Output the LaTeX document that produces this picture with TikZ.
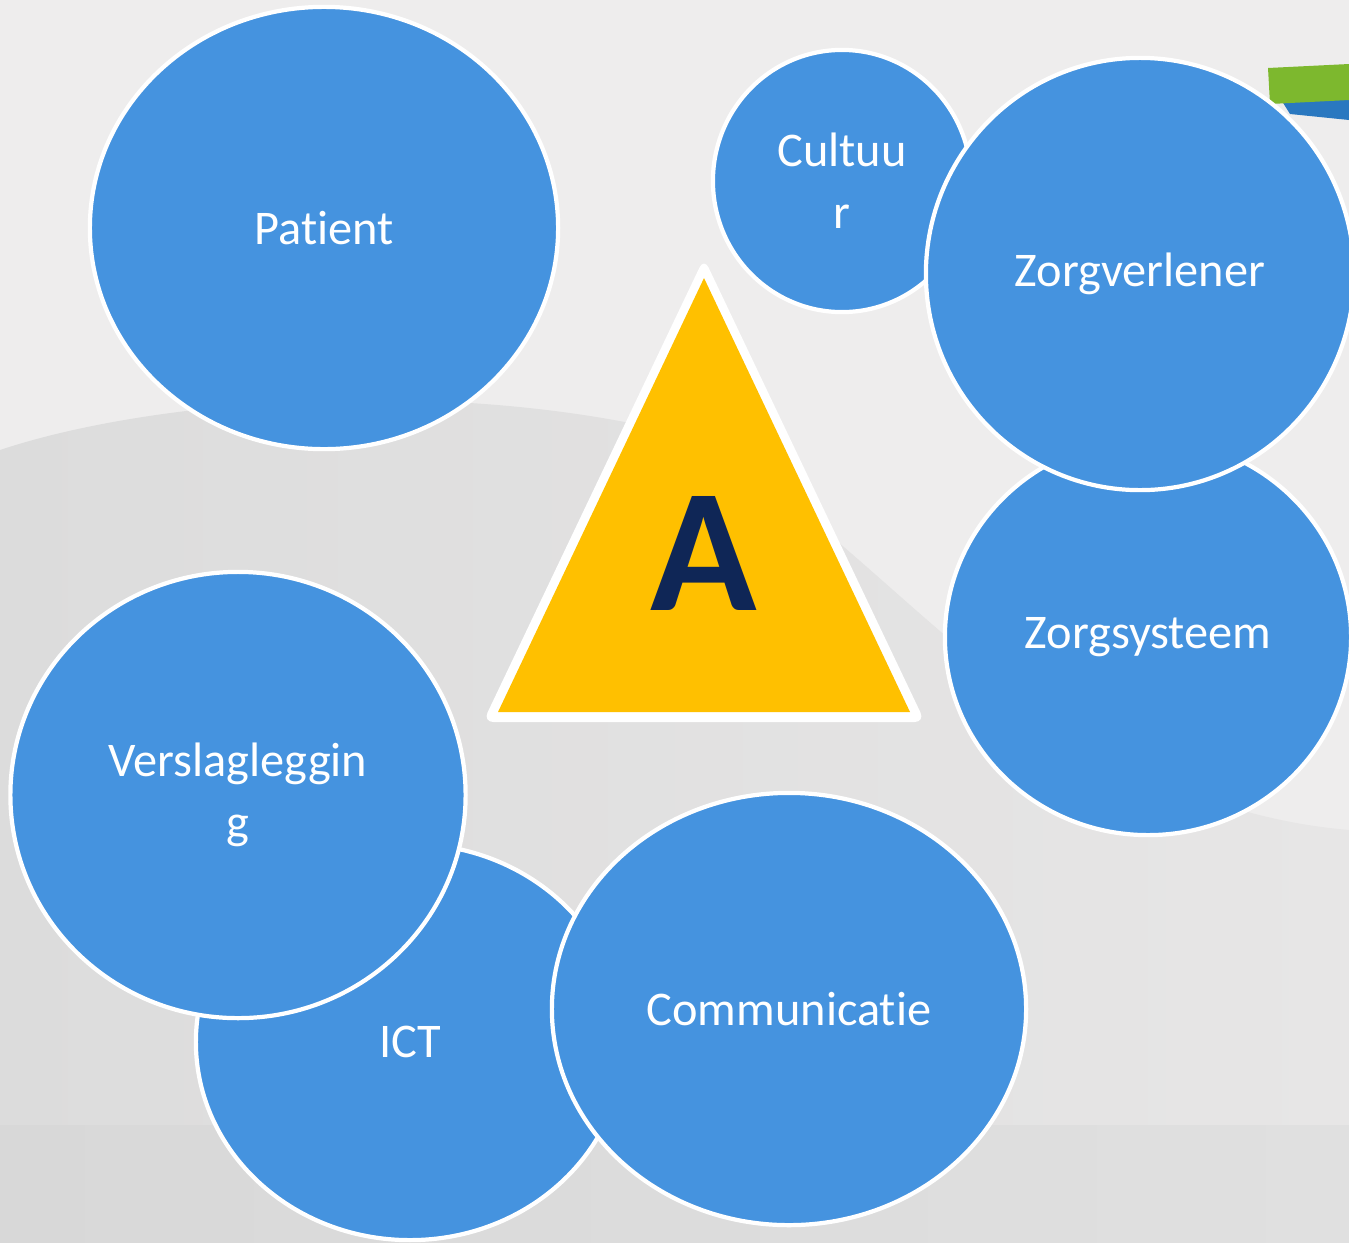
\documentclass[tikz,border=0pt]{standalone}
\usepackage{fontspec}
\setmainfont{Carlito}[Ligatures=NoCommon]
\usetikzlibrary{shapes.geometric}
\definecolor{bblue}{HTML}{4593DF}
\definecolor{tyellow}{HTML}{FFC000}
\definecolor{navy}{HTML}{0F2656}
\definecolor{bgtop}{HTML}{EEEDED}
\definecolor{bgmidL}{HTML}{DCDCDC}
\definecolor{bgmidR}{HTML}{E7E6E6}
\definecolor{bgbotL}{HTML}{D8D8D8}
\definecolor{bgbotR}{HTML}{E0E0E0}
\definecolor{lgreen}{HTML}{7DB82E}
\definecolor{lblue}{HTML}{2A78C0}
\tikzset{
  bub/.style={ellipse, fill=bblue, draw=white, line width=1.2pt, text=white,
    inner sep=0pt, align=center, font=\fontsize{13.75}{17.6}\selectfont},
}
\begin{document}
\begin{tikzpicture}[x=0.01cm,y=-0.01cm]
\useasboundingbox (0,0) rectangle (1349,1242);
\clip (0,0) rectangle (1349,1242);
% background
\fill[bgtop] (0,0) rectangle (1349,1242);
\shade[left color=bgmidL, right color=bgmidR]
  (0,450) .. controls (150,400) and (420,380) .. (640,425)
  .. controls (850,470) and (1000,800) .. (1349,830) -- (1349,1125) -- (0,1125) -- cycle;
\shade[left color=bgbotL, right color=bgbotR] (0,1125) rectangle (1349,1242);
% logo fragment top right
\fill[lblue] (1280,98) -- (1349,96) -- (1349,120) -- (1290,114) -- cycle;
\fill[lgreen] (1268,68) -- (1349,64) -- (1349,100) -- (1270,104) -- cycle;
% triangle
\coordinate (tA) at (704,258);
\coordinate (tB) at (483,722);
\coordinate (tC) at (925,722);
\fill[white, rounded corners=3pt] (tA) -- (tB) -- (tC) -- cycle;
\fill[tyellow] (704,278) -- (498,712) -- (910,712) -- cycle;
\node[font=\fontsize{50}{50}\bfseries\selectfont, text=navy] (A) at (704,553) {A};
% bubbles
\node[bub, minimum width=4.68cm, minimum height=4.42cm] (patient) at (324,228) {Patient};
\node[bub, minimum width=2.58cm, minimum height=2.62cm] (cultuur) at (842,181) {Cultuu\\r};
\node[bub, minimum width=4.06cm, minimum height=3.96cm] (zorgsys) at (1148,637) {Zorgsysteem};
\node[bub, minimum width=4.28cm, minimum height=4.32cm] (zorgverl) at (1140,274) {Zorgverlener};
\node[bub, minimum width=4.28cm, minimum height=3.96cm] (ict) at (410,1042) {ICT};
\node[bub, minimum width=4.55cm, minimum height=4.46cm] (versl) at (238,795) {Verslagleggin\\g};
\node[bub, minimum width=4.74cm, minimum height=4.32cm] (comm) at (789,1009) {Communicatie};
\end{tikzpicture}
\end{document}
